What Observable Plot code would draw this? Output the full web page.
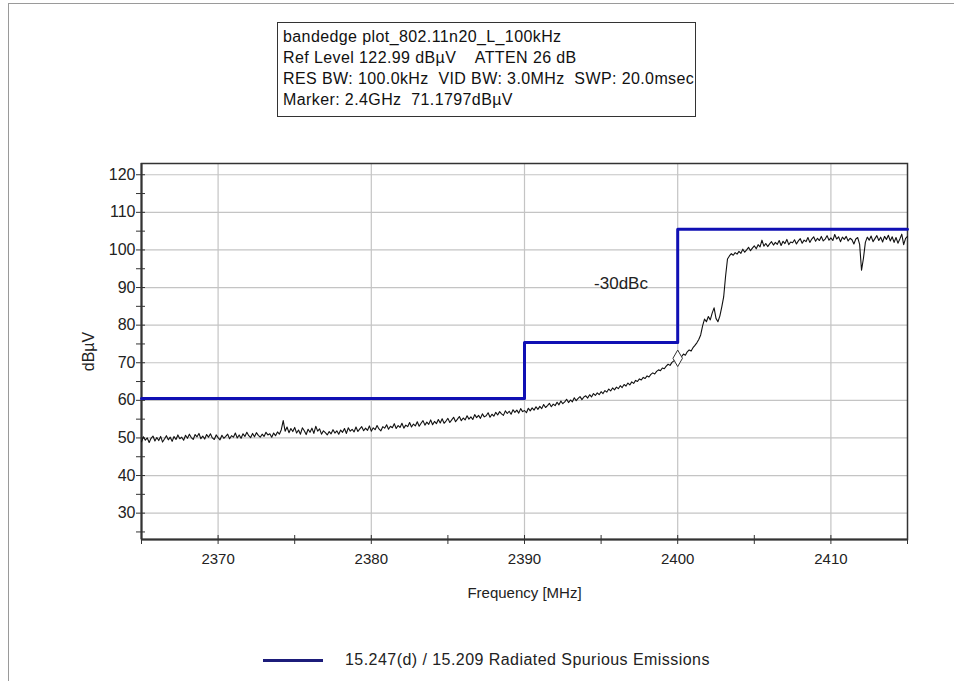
<!DOCTYPE html>
<html>
<head>
<meta charset="utf-8">
<script src="https://cdn.jsdelivr.net/npm/d3@7"></script>
<script src="https://cdn.jsdelivr.net/npm/@observablehq/plot@0.6"></script>
<style>
  html, body { margin: 0; padding: 0; background: #fff; }
  #wrap { position: relative; width: 954px; height: 681px; overflow: hidden; font-family: "Liberation Sans", Arial, sans-serif; }
  #outer { position: absolute; left: 8px; top: 3px; right: -2px; bottom: -2px; border-left: 1px solid #9a9a9a; border-top: 1px solid #9a9a9a; }
  #chart { position: absolute; left: 0; top: 0; }
  #info { position: absolute; left: 277px; top: 22px; width: 419px; height: 95px; border: 1px solid #333; font-size: 16px; letter-spacing: 0.4px; line-height: 21px; color: #111; padding: 3px 0 0 5px; box-sizing: border-box; white-space: pre; }
  #legend { position: absolute; left: 263px; top: 649px; height: 22px; display: flex; align-items: center; font-size: 16px; letter-spacing: 0.45px; color: #222; }
  #legend .sw { width: 60px; height: 0; border-top: 3px solid #1c1c7a; margin-right: 22px; }
</style>
</head>
<body>
<div id="wrap">
  <div id="outer"></div>
  <div id="chart"></div>
  <div id="info"></div>
  <div id="legend"><span class="sw"></span><span id="legtext"></span></div>
</div>
<script>
// ---- Data ----
const infoLines = [
  "bandedge plot_802.11n20_L_100kHz",
  "Ref Level 122.99 dBµV    ATTEN 26 dB",
  "RES BW: 100.0kHz  VID BW: 3.0MHz  SWP: 20.0msec",
  "Marker: 2.4GHz  71.1797dBµV"
];
const legendLabel = "15.247(d) / 15.209 Radiated Spurious Emissions";
const xLabel = "Frequency [MHz]";
const yLabel = "dBµV";

const xDomain = [2365, 2415];
const yDomain = [22.99, 122.99];
const xTicks = [2370, 2380, 2390, 2400, 2410];
const xMinorTicks = [2365, 2370, 2375, 2380, 2385, 2390, 2395, 2400, 2405, 2410, 2415];
const yTicks = [30, 40, 50, 60, 70, 80, 90, 100, 110, 120];
const yMinorTicks = [25, 30, 35, 40, 45, 50, 55, 60, 65, 70, 75, 80, 85, 90, 95, 100, 105, 110, 115, 120];

// limit line (15.247(d) / 15.209)
const limitFreq  = [2365, 2390, 2390, 2400, 2400, 2415];
const limitLevel = [60.5, 60.5, 75.4, 75.4, 105.5, 105.5];

// measured trace: 401 sweep points, 0.125 MHz apart, from 2365 MHz
const sweepStart = 2365;
const sweepStep = 0.125;
const traceLevel = [
  49.0, 50.3, 49.4, 50.0, 48.8, 49.9, 50.5, 49.2,
  50.1, 49.3, 50.4, 48.9, 49.7, 50.6, 49.5, 50.2,
  49.1, 50.4, 49.6, 50.8, 49.8, 50.2, 49.4, 50.7,
  49.9, 51.0, 50.1, 49.6, 50.9, 50.3, 51.2, 49.8,
  50.5, 49.7, 50.9, 50.2, 51.1, 50.0, 49.6, 50.8,
  50.1, 49.5, 50.7, 49.9, 50.4, 51.0, 49.8, 50.6,
  50.2, 51.3, 50.0, 50.8, 49.9, 51.1, 50.4, 51.5,
  50.6, 50.1, 51.2, 50.3, 51.4, 50.7, 50.2, 51.0,
  50.4, 51.5, 50.8, 51.1, 50.2, 51.3, 50.6, 51.6,
  51.0, 52.2, 54.6, 51.8, 52.9, 51.4, 52.5, 51.7,
  52.8, 51.3, 52.1, 51.0, 52.7, 51.9, 50.9, 52.3,
  51.5, 52.6, 51.2, 53.1, 51.8, 52.4, 51.0, 51.9,
  51.4, 50.8, 51.7, 51.1, 52.2, 51.3, 51.9, 51.0,
  52.1, 51.5, 52.5, 51.2, 52.7, 51.8, 52.3, 51.6,
  52.9, 51.7, 52.4, 53.0, 51.9, 52.6, 52.0, 53.2,
  51.8, 52.7, 52.2, 53.3, 52.4, 51.9, 53.0, 52.6,
  53.5, 52.3, 53.1, 52.7, 53.8, 52.5, 53.3, 52.8,
  53.9, 52.6, 53.4, 53.0, 54.1, 52.9, 53.7, 53.2,
  54.3, 53.1, 53.9, 54.6, 53.4, 54.2, 53.6, 54.8,
  53.5, 54.4, 53.8, 54.9, 54.0, 55.1, 53.9, 54.5,
  55.2, 54.1, 54.8, 55.5, 54.3, 55.0, 55.7, 54.6,
  55.3, 54.8, 55.9, 55.0, 55.6, 54.9, 56.2, 55.4,
  56.0, 55.2, 56.4, 55.6, 55.9, 56.7, 55.5, 56.3,
  55.8, 56.8, 56.1, 57.0, 56.4, 56.0, 57.2, 56.5,
  57.1, 56.3, 57.5, 56.8, 57.4, 56.6, 57.8, 57.0,
  57.3, 56.7, 57.9, 57.2, 58.0, 57.4, 58.3, 57.6,
  58.4, 57.8, 58.9, 58.1, 58.6, 59.2, 58.3, 59.0,
  58.6, 59.5, 58.8, 59.8, 59.1, 59.6, 60.3, 59.4,
  60.1, 59.6, 60.7, 59.9, 60.5, 61.0, 60.2, 60.9,
  61.2, 60.6, 61.5, 60.9, 61.8, 61.3, 62.0, 61.5,
  62.3, 61.8, 62.6, 62.2, 63.0, 62.5, 63.3, 62.8,
  63.5, 63.1, 63.9, 63.4, 64.2, 63.8, 64.6, 64.1,
  64.9, 64.5, 65.3, 65.0, 65.7, 65.4, 66.1, 65.8,
  66.5, 66.2, 66.9, 67.3, 67.0, 67.7, 68.1, 67.9,
  68.6, 68.4, 69.1, 69.6, 69.3, 70.1, 70.5, 70.8,
  71.2, 70.9, 71.6, 72.3, 72.0, 72.9, 73.4, 73.1,
  74.0, 74.6, 75.3, 76.2, 77.4, 79.8, 81.6, 80.9,
  82.3, 81.4, 83.2, 84.6, 81.8, 80.9, 82.4, 84.8,
  87.5, 93.0, 97.6, 98.4, 99.0, 98.6, 99.3, 98.9,
  99.6, 99.1, 100.2, 99.4, 100.0, 100.7, 99.8, 100.5,
  101.1, 100.3, 101.4, 100.8, 102.6, 101.0, 101.7, 100.9,
  101.6, 102.2, 101.3, 102.0, 101.5, 102.5, 101.2, 102.3,
  101.7, 102.8, 101.4, 102.1, 101.9, 102.7, 101.6, 102.4,
  103.0, 101.8, 102.6, 102.2, 103.3, 102.0, 102.9, 103.5,
  102.3, 103.1, 102.5, 103.6, 102.4, 102.9, 103.8, 102.6,
  103.2, 102.5, 104.1, 102.9, 103.5, 102.2, 103.4, 102.8,
  103.6, 102.4, 103.1, 102.7, 101.6, 102.9, 103.3, 101.5,
  94.6, 97.8, 102.0, 103.4, 102.6, 103.7, 102.2, 103.0,
  103.8, 102.5, 103.4, 102.1, 103.6, 102.8, 103.9, 102.4,
  103.5, 102.0, 103.3, 101.8, 102.9, 104.2, 101.4, 103.1,
  103.6
];

const markerFreq = [2400];
const markerLevel = [71.18];

const annotText = ["-30dBc"];
const annotFreq = [2396.3];
const annotLevel = [91.1];

// ---- Build tables ----
const trace = traceLevel.map((v, i) => ({f: sweepStart + i * sweepStep, v}));
const limit = limitFreq.map((f, i) => ({f, v: limitLevel[i]}));
const marker = markerFreq.map((f, i) => ({f, v: markerLevel[i]}));
const annot = annotText.map((t, i) => ({t, f: annotFreq[i], v: annotLevel[i]}));

document.getElementById("info").textContent = infoLines.join("\n");
document.getElementById("legtext").textContent = legendLabel;

const fmt = d => String(d);

const chart = Plot.plot({
  width: 954,
  height: 620,
  marginLeft: 141,
  marginRight: 47,
  marginTop: 163,
  marginBottom: 81,
  style: {fontFamily: "'Liberation Sans', Arial, sans-serif", fontSize: "15px", color: "#222", background: "transparent"},
  x: {domain: xDomain},
  y: {domain: yDomain},
  marks: [
    Plot.gridX(xTicks, {stroke: "#c4c4c4", strokeOpacity: 1, strokeWidth: 1.2}),
    Plot.gridY(yTicks, {stroke: "#c4c4c4", strokeOpacity: 1, strokeWidth: 1.2}),
    // tick marks crossing the axes
    Plot.axisX(xMinorTicks, {anchor: "bottom", tickSize: 9, insetBottom: 4, text: null, label: null, stroke: "#333"}),
    Plot.axisY(yMinorTicks, {anchor: "left", tickSize: 9, insetLeft: 4, text: null, label: null, stroke: "#333"}),
    // labels
    Plot.axisX(xTicks, {anchor: "bottom", tickSize: 0, tickPadding: 14, tickFormat: fmt, fontSize: 15, label: xLabel, labelAnchor: "center", labelArrow: "none", labelOffset: 58}),
    Plot.axisY(yTicks, {anchor: "left", tickSize: 0, tickPadding: 6, tickFormat: fmt, fontSize: 16, label: yLabel, labelAnchor: "center", labelArrow: "none", labelOffset: 59}),
    Plot.frame({stroke: "#333", strokeWidth: 1.5}),
    Plot.ruleX([xDomain[0]], {stroke: "#333", strokeWidth: 2}),
    Plot.ruleY([yDomain[0]], {stroke: "#333", strokeWidth: 2}),
    Plot.line(trace, {x: "f", y: "v", stroke: "#111", strokeWidth: 1.1}),
    Plot.line(limit, {x: "f", y: "v", stroke: "#1010b4", strokeWidth: 3}),
    Plot.dot(marker, {x: "f", y: "v", symbol: "diamond", r: 5, stroke: "#333", fill: "white", strokeWidth: 1}),
    Plot.text(annot, {x: "f", y: "v", text: "t", fontSize: 17, fill: "#222"})
  ]
});
document.getElementById("chart").appendChild(chart);
</script>
</body>
</html>
